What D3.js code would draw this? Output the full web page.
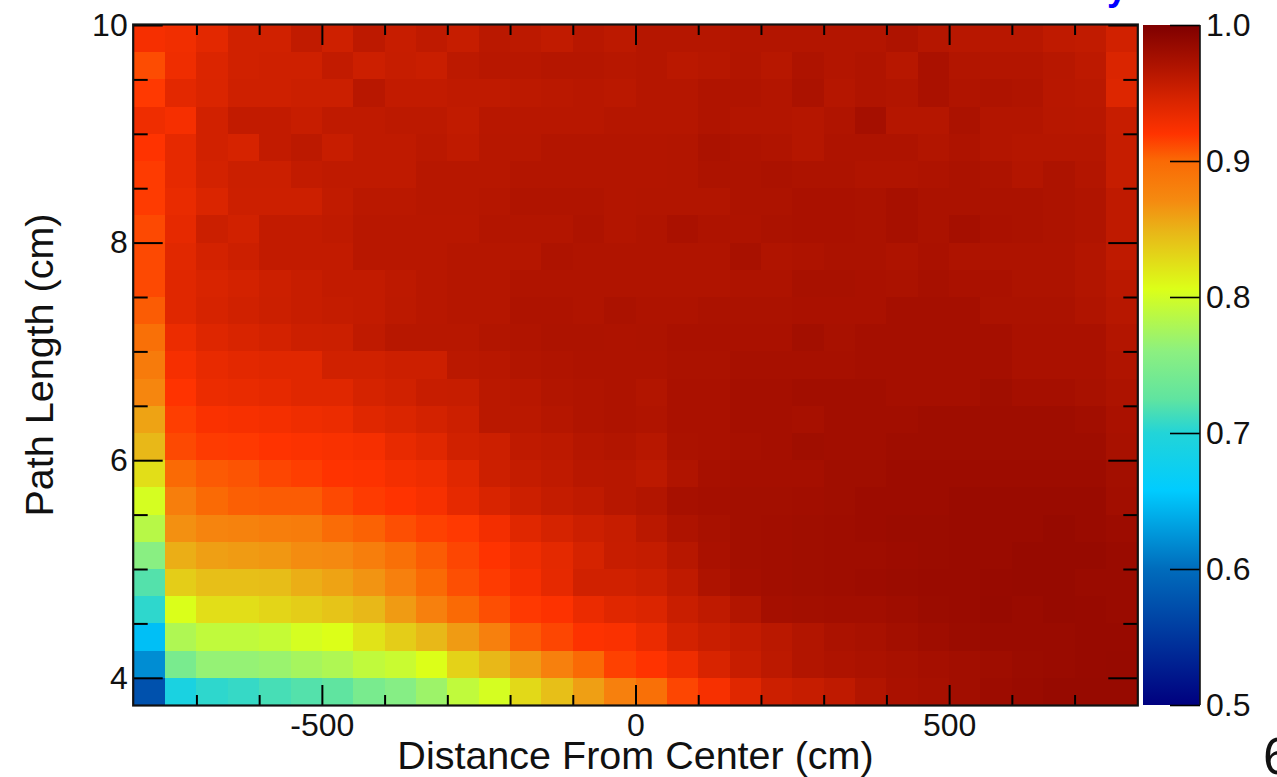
<!DOCTYPE html>
<html lang="en">
<head>
  <meta charset='utf-8'>
  <title>Efficiency map</title>
  <style>
    html, body { margin: 0; padding: 0; background: #fff; overflow: hidden; }
    svg { display: block; }
    text { font-family: "Liberation Sans", Arial, sans-serif; fill: #111; }
    .tick line, .domain { stroke: #000; }
  </style>
</head>
<body>
  <div id="chart"></div>

<script src="https://cdn.jsdelivr.net/npm/d3@7"></script>
<script>

  ////////////////////////////////////////////////// DATA

  // left edge of every x bin (cm)
  var xBins = [-800,-750,-700,-650,-600,-550,-500,-450,-400,-350,-300,-250,-200,-150,-100,-50,
               0,50,100,150,200,250,300,350,400,450,500,550,600,650,700,750];

  // top edge of every y bin (cm), same order as the rows below
  var yBins = [10,9.75,9.5,9.25,9,8.75,8.5,8.25,8,7.75,7.5,7.25,7,6.75,6.5,6.25,
               6,5.75,5.5,5.25,5,4.75,4.5,4.25,4];

  var efficiency = [
    [.926,.929,.938,.95,.95,.959,.951,.961,.955,.96,.956,.963,.962,.959,.964,.962,.966,.966,.966,.967,.967,.967,.967,.967,.97,.966,.964,.964,.964,.96,.959,.949],
    [.911,.93,.943,.95,.951,.951,.958,.952,.956,.954,.962,.964,.964,.966,.966,.965,.966,.963,.965,.968,.965,.97,.967,.969,.965,.973,.968,.967,.967,.965,.961,.944],
    [.918,.938,.944,.951,.951,.953,.953,.964,.958,.958,.96,.96,.962,.963,.964,.963,.966,.966,.969,.969,.967,.972,.966,.969,.968,.973,.969,.97,.969,.964,.963,.942],
    [.93,.926,.949,.958,.958,.955,.96,.96,.962,.962,.959,.964,.964,.964,.964,.966,.966,.966,.969,.967,.967,.966,.969,.976,.966,.966,.972,.967,.967,.965,.964,.955],
    [.92,.936,.949,.946,.958,.962,.955,.96,.96,.963,.96,.965,.965,.967,.967,.967,.967,.968,.972,.97,.969,.966,.97,.97,.97,.968,.97,.967,.966,.966,.966,.956],
    [.917,.936,.948,.953,.953,.958,.96,.96,.96,.965,.965,.965,.967,.967,.967,.967,.967,.968,.971,.971,.972,.971,.971,.969,.969,.97,.972,.971,.967,.971,.967,.956],
    [.917,.934,.944,.952,.952,.952,.959,.963,.963,.965,.965,.966,.969,.969,.969,.967,.968,.968,.968,.971,.971,.973,.973,.972,.975,.972,.972,.972,.972,.971,.969,.96],
    [.912,.936,.953,.949,.958,.958,.96,.964,.964,.964,.964,.967,.967,.967,.97,.967,.969,.973,.97,.97,.972,.973,.973,.972,.975,.972,.976,.973,.972,.971,.969,.96],
    [.912,.939,.948,.952,.958,.958,.958,.964,.964,.964,.966,.966,.966,.97,.969,.969,.969,.969,.969,.974,.969,.97,.972,.972,.97,.973,.97,.97,.97,.97,.967,.96],
    [.912,.94,.945,.948,.952,.955,.958,.958,.961,.964,.966,.966,.969,.969,.969,.969,.969,.969,.969,.97,.97,.974,.974,.973,.972,.975,.973,.973,.971,.971,.968,.963],
    [.905,.94,.946,.95,.953,.955,.957,.958,.962,.964,.966,.966,.97,.97,.969,.972,.97,.97,.972,.972,.972,.973,.973,.973,.976,.976,.976,.972,.972,.972,.969,.965],
    [.895,.932,.941,.945,.948,.952,.953,.96,.965,.965,.965,.968,.969,.971,.971,.97,.971,.973,.973,.973,.973,.977,.974,.976,.976,.976,.976,.976,.973,.973,.973,.967],
    [.885,.926,.935,.938,.94,.94,.95,.95,.952,.952,.963,.964,.968,.969,.97,.97,.97,.972,.972,.975,.975,.975,.975,.976,.976,.976,.976,.976,.973,.973,.973,.969],
    [.875,.92,.932,.934,.936,.94,.94,.947,.95,.955,.956,.963,.964,.968,.969,.97,.968,.973,.973,.976,.976,.978,.978,.978,.976,.976,.976,.979,.976,.976,.974,.971],
    [.858,.916,.923,.925,.927,.93,.932,.94,.944,.948,.952,.963,.963,.966,.969,.97,.969,.973,.973,.976,.976,.975,.978,.978,.978,.98,.98,.98,.98,.98,.978,.973],
    [.847,.912,.917,.918,.92,.922,.924,.926,.935,.94,.95,.952,.96,.962,.966,.968,.965,.972,.973,.975,.976,.979,.978,.978,.98,.98,.98,.98,.98,.98,.98,.974],
    [.825,.9,.906,.908,.913,.916,.92,.921,.927,.93,.94,.952,.957,.96,.964,.965,.962,.969,.975,.976,.976,.976,.979,.979,.981,.981,.981,.981,.981,.981,.981,.977],
    [.802,.882,.9,.904,.905,.905,.912,.917,.92,.925,.936,.945,.952,.957,.96,.965,.968,.975,.976,.977,.977,.978,.979,.981,.981,.981,.983,.983,.983,.983,.983,.978],
    [.785,.868,.876,.878,.882,.884,.898,.903,.91,.915,.918,.928,.94,.947,.952,.956,.963,.97,.974,.977,.978,.979,.98,.981,.982,.982,.983,.983,.983,.985,.983,.981],
    [.758,.852,.86,.862,.864,.87,.872,.882,.895,.905,.913,.92,.93,.937,.947,.955,.957,.965,.973,.977,.978,.979,.98,.98,.981,.982,.983,.983,.985,.985,.985,.983],
    [.72,.835,.843,.843,.844,.852,.858,.866,.88,.9,.91,.917,.926,.936,.95,.95,.953,.96,.97,.976,.978,.979,.98,.981,.982,.983,.983,.984,.985,.985,.983,.983],
    [.705,.805,.825,.825,.83,.835,.84,.847,.862,.88,.9,.91,.918,.921,.933,.94,.943,.954,.96,.968,.976,.977,.978,.978,.98,.982,.983,.985,.983,.985,.984,.983],
    [.65,.78,.79,.79,.793,.802,.806,.822,.835,.847,.862,.88,.906,.913,.921,.923,.933,.948,.954,.958,.963,.968,.972,.974,.977,.98,.982,.983,.983,.983,.984,.984],
    [.62,.745,.765,.765,.768,.775,.78,.79,.795,.806,.832,.847,.862,.88,.9,.915,.92,.93,.945,.955,.962,.968,.97,.972,.974,.976,.978,.98,.982,.983,.984,.985],
    [.575,.69,.705,.708,.715,.72,.725,.745,.755,.77,.79,.802,.828,.843,.86,.88,.895,.913,.925,.94,.952,.956,.96,.968,.973,.975,.978,.981,.983,.985,.985,.985]
  ];

  var xMajor = [-500,0,500];
  var xMajorLabels = ["-500","0","500"];
  var xMinor = [-700,-600,-400,-300,-200,-100,100,200,300,400,600,700];
  var yMajor = [4,6,8,10];
  var yMinor = [4.5,5,5.5,6.5,7,7.5,8.5,9,9.5];
  var zTicks = [0.5,0.6,0.7,0.8,0.9,1.0];

  // palette
  var zStops  = [0.5,0.6,0.658,0.7,0.725,0.76,0.806,0.847,0.871,0.9,0.92,0.945,0.969,1.0];
  var zColors = ["#00007f","#006cbc","#00ccff","#22d4d8","#60e4a0","#8cf080","#dcff18","#e8b818","#f58a10","#fa6a05","#ff3300","#d82400","#b01400","#7f0000"];

  ////////////////////////////////////////////////// SETUP

  var width = 1277, height = 777;
  var plot = {left: 133.7, right: 1137.3, top: 25, bottom: 705};
  var bar = {left: 1143, right: 1200};

  var svg = d3.select("#chart").append("svg")
    .attr("width", width)
    .attr("height", height);

  var xScale = d3.scaleLinear().domain([-800, 800]).range([plot.left, plot.right]);
  var yScale = d3.scaleLinear().domain([3.75, 10]).range([plot.bottom, plot.top]);
  var zScale = d3.scaleLinear().domain([0.5, 1]).range([plot.bottom, plot.top]);
  var color = d3.scaleLinear().domain(zStops).range(zColors);

  ////////////////////////////////////////////////// CELLS

  var xStep = xBins[1] - xBins[0];
  var yStep = yBins[0] - yBins[1];

  var rows = svg.append("g").selectAll("g")
    .data(efficiency)
    .enter().append("g");

  rows.selectAll("rect")
    .data(function(d, i) {
      return d.map(function(v, j) { return {v: v, x: xBins[j], y: yBins[i]}; });
    })
    .enter().append("rect")
    .attr("x", function(d) { return xScale(d.x); })
    .attr("y", function(d) { return yScale(d.y); })
    .attr("width", xScale(xStep) - xScale(0))
    .attr("height", yScale(0) - yScale(yStep))
    .attr("fill", function(d) { return color(d.v); })
    .attr("shape-rendering", "crispEdges");

  ////////////////////////////////////////////////// AXES

  // ticks point inwards on all four sides
  function drawAxis(axis, x, y) {
    var g = svg.append("g")
      .attr("transform", "translate(" + x + "," + y + ")")
      .call(axis);
    g.select(".domain").remove();
    g.selectAll("line").attr("stroke-width", 2);
    g.selectAll("text").style("font-size", "32px");
    return g;
  }

  var noLabel = function() { return ""; };
  var xMajorFormat = function(d) { return xMajorLabels[xMajor.indexOf(d)]; };

  function ticks(axis, values, size, format) {
    return axis.tickValues(values).tickSize(size).tickSizeOuter(0).tickFormat(format);
  }

  drawAxis(ticks(d3.axisBottom(xScale), xMajor, -20, xMajorFormat).tickPadding(8), 0, plot.bottom);
  drawAxis(ticks(d3.axisBottom(xScale), xMinor, -10, noLabel), 0, plot.bottom);
  drawAxis(ticks(d3.axisTop(xScale), xMajor, -20, noLabel), 0, plot.top);
  drawAxis(ticks(d3.axisTop(xScale), xMinor, -10, noLabel), 0, plot.top);

  drawAxis(ticks(d3.axisLeft(yScale), yMajor, -29, d3.format("d")).tickPadding(6), plot.left, 0);
  drawAxis(ticks(d3.axisLeft(yScale), yMinor, -14, noLabel), plot.left, 0);
  drawAxis(ticks(d3.axisRight(yScale), yMajor, -29, noLabel), plot.right, 0);
  drawAxis(ticks(d3.axisRight(yScale), yMinor, -14, noLabel), plot.right, 0);

  svg.append("rect")
    .attr("x", plot.left - 0.5)
    .attr("y", plot.top - 0.5)
    .attr("width", plot.right - plot.left + 1)
    .attr("height", plot.bottom - plot.top + 1)
    .attr("fill", "none")
    .attr("stroke", "#111")
    .attr("stroke-width", 2.2);

  ////////////////////////////////////////////////// COLOUR BAR

  var gradient = svg.append("defs").append("linearGradient")
    .attr("id", "zGradient")
    .attr("x1", 0).attr("y1", 1).attr("x2", 0).attr("y2", 0);

  gradient.selectAll("stop")
    .data(zStops)
    .enter().append("stop")
    .attr("offset", function(d) { return (d - 0.5) / 0.5; })
    .attr("stop-color", function(d) { return color(d); });

  svg.append("rect")
    .attr("x", bar.left)
    .attr("y", plot.top)
    .attr("width", bar.right - bar.left)
    .attr("height", plot.bottom - plot.top)
    .attr("fill", "url(#zGradient)");

  var zAxis = drawAxis(
    ticks(d3.axisRight(zScale), zTicks, -30, d3.format(".1f")).tickPadding(6),
    bar.right, 0);
  zAxis.selectAll("line").attr("stroke-width", 1.6);

  svg.append("line")
    .attr("x1", bar.right).attr("x2", bar.right)
    .attr("y1", plot.top).attr("y2", plot.bottom)
    .attr("stroke", "#111")
    .attr("stroke-width", 1.6);

  ////////////////////////////////////////////////// TITLES

  svg.append("text")
    .attr("x", (plot.left + plot.right) / 2)
    .attr("y", 769)
    .attr("text-anchor", "middle")
    .style("font-size", "39.5px")
    .text("Distance From Center (cm)");

  svg.append("text")
    .attr("transform", "translate(53,365)rotate(-90)")
    .attr("text-anchor", "middle")
    .style("font-size", "39.5px")
    .text("Path Length (cm)");

  // pieces of neighbouring text cut off by the crop of the original picture
  svg.append("text")
    .attr("x", 1107)
    .attr("y", 0)
    .style("font-size", "36px")
    .style("font-weight", "bold")
    .style("fill", "#0000ff")
    .text("y");

  svg.append("text")
    .attr("x", 1263)
    .attr("y", 774)
    .style("font-size", "52px")
    .text("6");

</script>
</body>
</html>
